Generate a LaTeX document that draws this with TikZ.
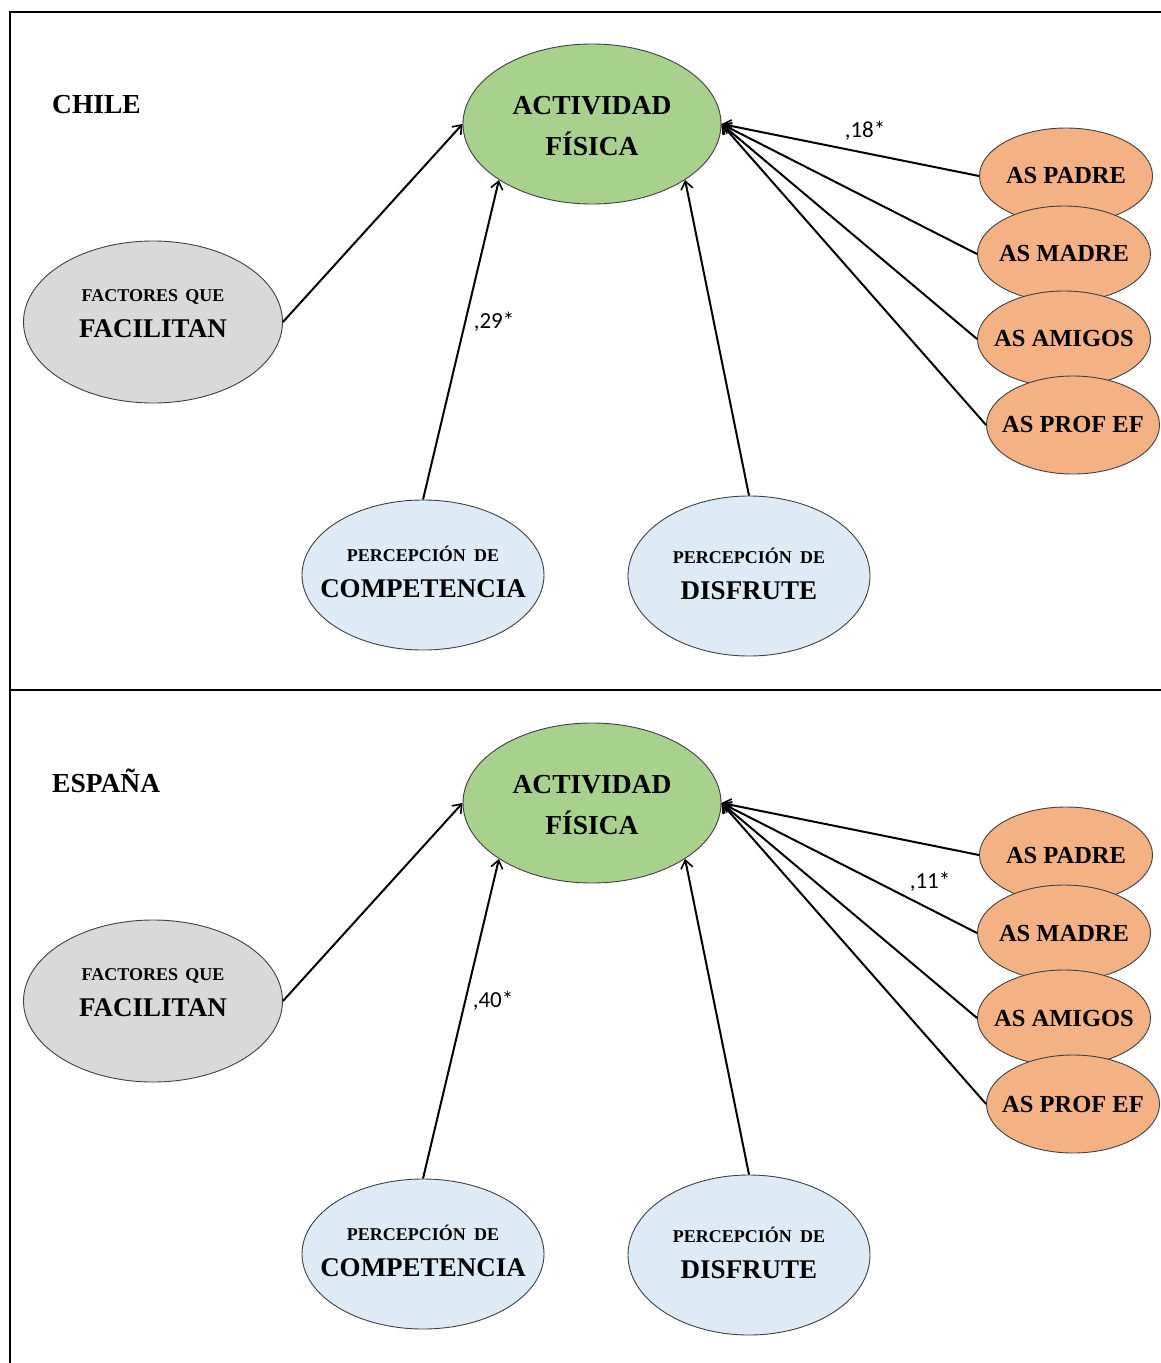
\documentclass[tikz,border=0pt]{standalone}
\usepackage{fontspec}
\setmainfont{Liberation Serif}
\newfontfamily\calib{Carlito}
\usetikzlibrary{shapes.geometric,arrows.meta}
\definecolor{afgreen}{RGB}{169,209,142}
\definecolor{facgray}{RGB}{217,217,217}
\definecolor{perblue}{RGB}{222,235,247}
\definecolor{asorange}{RGB}{244,177,131}
\tikzset{
  oval/.style={ellipse, draw=black!75, line width=0.9pt, inner sep=0pt},
  afnode/.style={oval, fill=afgreen, minimum width=258pt, minimum height=160pt},
  facnode/.style={oval, fill=facgray, minimum width=259pt, minimum height=162pt},
  pernode/.style={oval, fill=perblue, minimum width=242pt, minimum height=150pt},
  asnode/.style={oval, fill=asorange, minimum width=173pt, minimum height=96pt},
  bigtxt/.style={align=center, inner sep=0pt, font=\fontsize{27.5}{41}\selectfont\bfseries},
  twotxt/.style={align=center, inner sep=0pt, font=\fontsize{27}{36}\selectfont\bfseries},
  astxt/.style={inner sep=0pt, font=\fontsize{24.5}{28}\selectfont\bfseries},
  arr/.style={line width=2pt, -{Straight Barb[length=8pt,width=12pt,line width=1.6pt]}},
  coef/.style={inner sep=0pt, font=\calib\fontsize{23}{26}\selectfont},
  title/.style={inner sep=0pt, anchor=base west, font=\fontsize{27.5}{30}\selectfont\bfseries},
  frame/.style={line width=2.6pt}
}
\newcommand\smallline[1]{{\fontsize{18}{20}\selectfont #1}}
\newcommand\mypanel[2]{%
\begin{scope}[shift={(0,#1)}]
\node[afnode, label={[bigtxt, yshift=-2pt]center:ACTIVIDAD\\FÍSICA}] (#2af) at (592,124) {};
\node[facnode, label={[twotxt, yshift=8pt]center:\smallline{FACTORES\hspace{0.4em}QUE}\\FACILITAN}] (#2fac) at (153,322) {};
\node[pernode, label={[twotxt, yshift=3pt]center:\smallline{PERCEPCIÓN\hspace{0.45em}DE}\\COMPETENCIA}] (#2comp) at (423,575) {};
\node[pernode, minimum height=160pt, label={[twotxt, yshift=2pt]center:\smallline{PERCEPCIÓN\hspace{0.45em}DE}\\DISFRUTE}] (#2dis) at (749,576) {};
\node[asnode, label={[astxt]center:AS PADRE}] (#2pad) at (1066,176) {};
\node[asnode, label={[astxt]center:AS MADRE}] (#2mad) at (1064,254) {};
\node[asnode, label={[astxt]center:AS AMIGOS}] (#2ami) at (1064,339) {};
\node[asnode, minimum height=98pt, label={[astxt]center:AS PROF EF}] (#2prof) at (1073,425) {};
\draw[arr] (#2fac.east) -- (#2af.west);
\draw[arr] (#2comp.north) -- (#2af.211);
\draw[arr] (#2dis.north) -- (#2af.329);
\draw[arr] (#2pad.west) -- (#2af.east);
\draw[arr] (#2mad.west) -- (#2af.east);
\draw[arr] (#2ami.west) -- (#2af.east);
\draw[arr] (#2prof.west) -- (#2af.east);
\end{scope}}
\begin{document}
\begin{tikzpicture}[x=1pt,y=-1pt]
\useasboundingbox (0,0) rectangle (1161,1363);
\coordinate (fbl) at (10,1363);
\coordinate (ftl) at (10,12);
\coordinate (ftr) at (1161,12);
\coordinate (fml) at (10,690);
\coordinate (fmr) at (1161,690);
\draw[frame] (fbl) -- (ftl) -- (ftr);
\draw[frame] (fml) -- (fmr);
\node[title] (chile) at (52,113) {CHILE};
\node[title] (espana) at (52,792) {ESPAÑA};
\mypanel{0}{c}
\mypanel{679}{e}
\node[coef] (c18) at (865,131) {,18*};
\node[coef] (c29) at (494,322) {,29*};
\node[coef] (e11) at (930,882) {,11*};
\node[coef] (e40) at (493,1001) {,40*};
\end{tikzpicture}
\end{document}
